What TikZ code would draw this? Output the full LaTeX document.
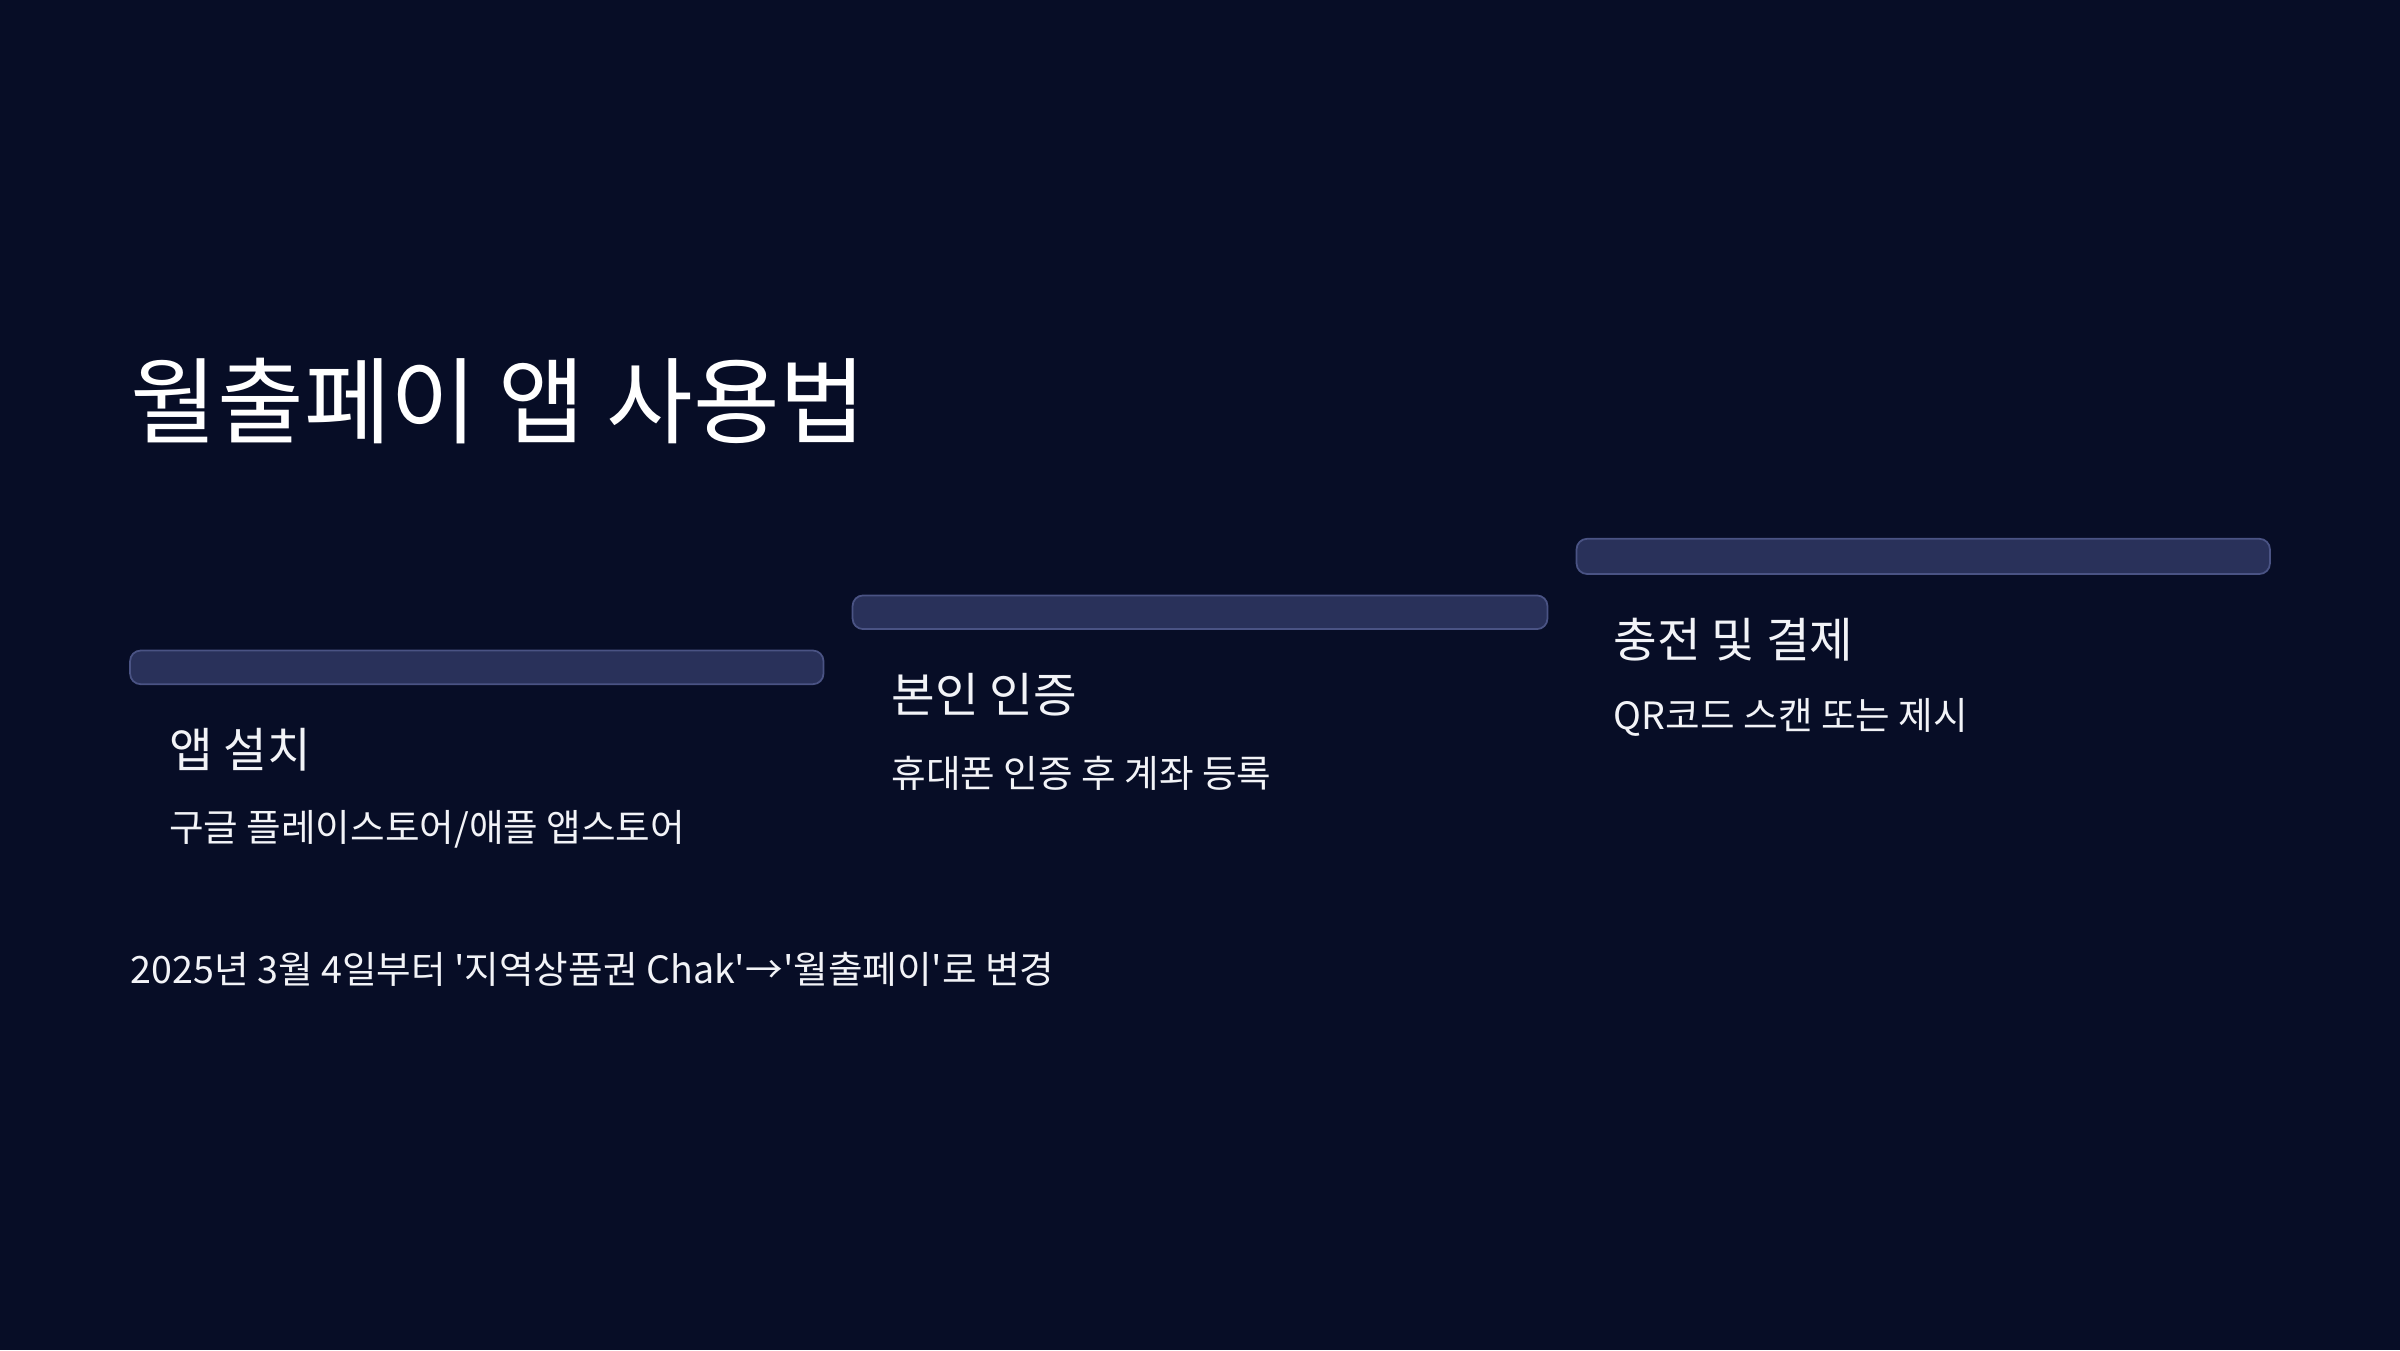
\documentclass[tikz,border=0pt]{standalone}
\usepackage{fontspec}
\setmainfont{Noto Sans CJK KR}
\definecolor{bg}{HTML}{070D26}
\definecolor{barfill}{HTML}{29315A}
\definecolor{barline}{HTML}{4A5384}
\definecolor{txt}{HTML}{F2F3F7}
\begin{document}
\begin{tikzpicture}[x=0.015306cm,y=-0.015306cm,
  bar/.style={fill=barfill, draw=barline, line width=0.5pt, rounded corners=3pt},
  steptitle/.style={anchor=west, text=txt, font=\fontsize{13.5pt}{16pt}\selectfont, inner sep=0pt},
  stepdesc/.style={anchor=west, text=txt, font=\fontsize{10.7pt}{13pt}\selectfont, inner sep=0pt}]
\fill[bg] (0,0) rectangle (1568,882);
\useasboundingbox (0,0) rectangle (1568,882);
% title
\node[anchor=west, text=white, inner sep=0pt, font=\fontsize{26.8pt}{30pt}\selectfont] (title) at (85,262) {월출페이 앱 사용법};
% steps
\draw[bar] (85,425) rectangle (538,447);
\node[steptitle] (t1) at (110,490) {앱 설치};
\node[stepdesc] (d1) at (110,542) {구글 플레이스토어/애플 앱스토어};
\draw[bar] (557,389) rectangle (1011,411);
\node[steptitle] (t2) at (582,454) {본인 인증};
\node[stepdesc] (d2) at (582,505) {휴대폰 인증 후 계좌 등록};
\draw[bar] (1030,352) rectangle (1483,375);
\node[steptitle] (t3) at (1054,418) {충전 및 결제};
\node[stepdesc] (d3) at (1054,469) {QR코드 스캔 또는 제시};
% note
\node[stepdesc] (note) at (85,633) {2025년 3월 4일부터 \textquotesingle 지역상품권 Chak\textquotesingle→\textquotesingle 월출페이\textquotesingle 로 변경};
\end{tikzpicture}
\end{document}
